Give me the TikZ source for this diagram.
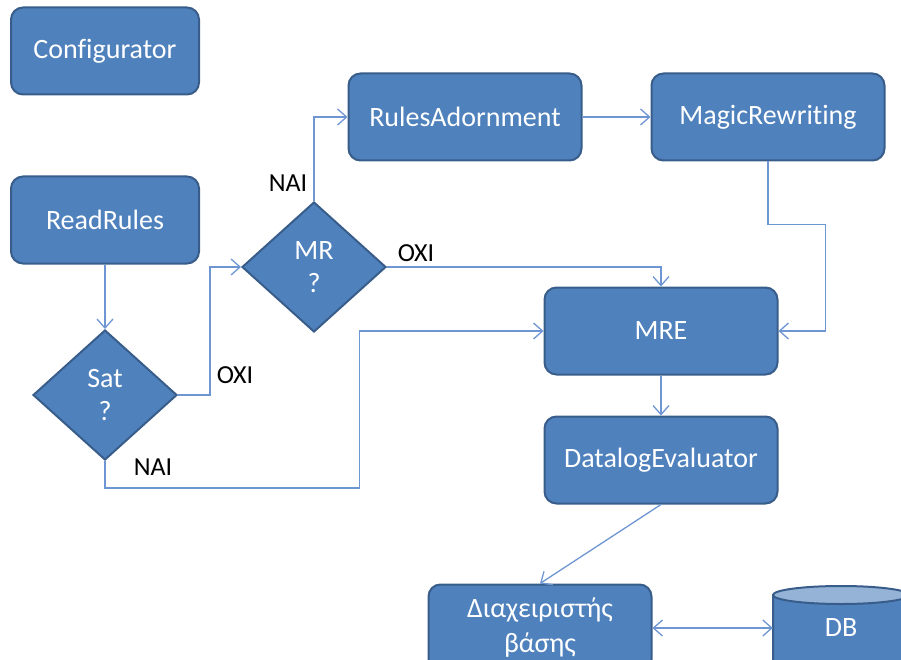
\documentclass[tikz,border=0pt]{standalone}
\usepackage{fontspec}
\setmainfont{Carlito}[Ligatures=CommonOff]
\usepackage{tikz}
\usetikzlibrary{arrows.meta}
\usetikzlibrary{shapes}
\usetikzlibrary{calc}
\definecolor{boxblue}{HTML}{4F81BD}
\definecolor{boxedge}{HTML}{385D8A}
\definecolor{linkblue}{HTML}{6E96D2}
\definecolor{dbtop}{HTML}{95B3D7}
\tikzstyle{block}=[draw=boxedge,fill=boxblue,rounded corners=12pt,line width=2pt,text=white,minimum height=87pt,font=\fontsize{28}{35}\selectfont,align=center]
\tikzstyle{decision}=[draw=boxedge,fill=boxblue,diamond,line width=2pt,text=white,minimum width=144pt,minimum height=130pt,inner sep=0pt,font=\fontsize{28}{33}\selectfont,align=center]
\tikzstyle{conn}=[draw=linkblue,line width=1.3pt,->]
\tikzstyle{answer}=[font=\fontsize{26}{30}\selectfont]
\tikzset{>={Straight Barb[length=9pt,width=16pt]}}

\begin{document}
\begin{tikzpicture}[x=1pt,y=-1pt]
\useasboundingbox (0,0) rectangle (901,660);
\clip (0,0) rectangle (901,660);

\node [block,minimum width=188pt] (cfg) at (105,51) {Configurator};
\node [block,minimum width=188pt] (read) at (105,220) {ReadRules};
\node [decision] (sat) at (105,395) {Sat\\?};
\node [decision] (mr) at (314,267) {MR\\?};
\node [block,minimum width=233pt] (ra) at (465,117) {RulesAdornment};
\node [block,minimum width=233pt] (mw) at (768,117) {MagicRewriting};
\node [block,minimum width=233pt] (mre) at (661,331) {MRE};
\node [block,minimum width=233pt] (dle) at (661,460) {DatalogEvaluator};
\node [block,minimum width=223pt] (dbm) at (540,628) {Διαχειριστής\\βάσης};

% database cylinder
\filldraw [draw=boxedge,fill=boxblue,line width=2pt] (773,595) -- (773,668)
  arc [start angle=180,end angle=0,x radius=68,y radius=9] -- (909,595) -- cycle;
\filldraw [draw=boxedge,fill=dbtop,line width=2pt] (841,595) ellipse [x radius=68,y radius=9];
\node [text=white,font=\fontsize{28}{33}\selectfont,minimum width=136pt] (db) at (841,628) {DB};

\draw [conn] (read) -- (sat);
\draw [conn] (sat.east) -- ++(32,0) |- (mr.west);
\draw [conn] (sat.south) -- ++(0,27) -| ([xshift=-184pt]mre.west) -- (mre.west);
\draw [conn] (mr.north) |- (ra.west);
\draw [conn] (mr.east) -| (mre.north);
\draw [conn] (ra) -- (mw);
\draw [conn] (mw.south) -- ++(0,63) -| ([xshift=47pt]mre.east) -- (mre.east);
\draw [conn] (mre) -- (dle);
\draw [conn] (dle.south) -- (dbm.north);
\draw [conn,<->] (dbm.east) -- (db.west);

\node at (sat) [answer,xshift=130pt,yshift=20pt] {OXI};
\node at (sat) [answer,xshift=48pt,yshift=-72pt] {NAI};
\node at (mr) [answer,xshift=-26pt,yshift=84pt] {NAI};
\node at (mr) [answer,xshift=102pt,yshift=14pt] {OXI};

\end{tikzpicture}
\end{document}
